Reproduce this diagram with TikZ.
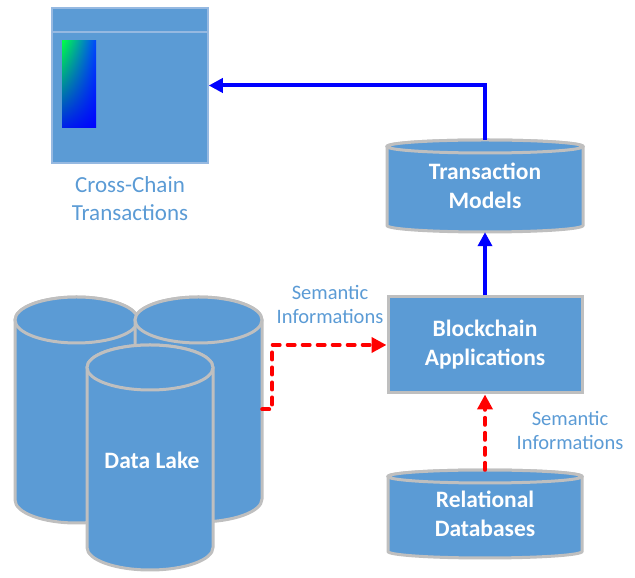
\documentclass[tikz,border=0pt]{standalone}
\usepackage{fontspec}
\setmainfont{Carlito}
\usetikzlibrary{arrows.meta,shadings}
\definecolor{fillblue}{HTML}{5B9BD5}
\definecolor{edgegray}{HTML}{BFBFBF}
\definecolor{labelblue}{HTML}{5B9BD5}
\definecolor{boxedge}{RGB}{150,185,225}
\definecolor{arrowblue}{RGB}{0,0,255}
\definecolor{arrowred}{RGB}{255,0,0}
\definecolor{gtl}{RGB}{0,255,70}
\definecolor{gtr}{RGB}{0,70,255}
\definecolor{gbl}{RGB}{0,30,235}
\definecolor{gbr}{RGB}{0,0,255}
\newcommand\cylshape[5]{%
  \filldraw[cylbody] (#1-#4,#2) -- (#1-#4,#3) arc[start angle=180,end angle=360,x radius=#4,y radius=#5] -- (#1+#4,#2) arc[start angle=0,end angle=180,x radius=#4,y radius=#5] -- cycle;
  \draw[cylbody] (#1,#2) ellipse[x radius=#4,y radius=#5];
}
\begin{document}
\begin{tikzpicture}[x=1pt,y=1pt,
  cylbody/.style={fill=fillblue, draw=edgegray, line width=3pt},
  boldtxt/.style={text=white, font=\fontsize{23.5}{29}\selectfont\bfseries, align=center, inner sep=0pt},
  lbl/.style={text=labelblue, font=\fontsize{20.5}{24}\selectfont, align=center, inner sep=0pt},
  bluearrow/.style={draw=arrowblue, line width=4pt, -{Triangle[length=14pt,width=14pt]}},
  reddash/.style={draw=arrowred, line width=4pt, dash pattern=on 7pt off 8pt, line cap=round, -{Triangle[length=15pt,width=15pt]}}
]
\useasboundingbox (0,0) rectangle (635,578);

% Cross-chain transactions box
\node[fill=fillblue, draw=boxedge, line width=1.5pt, minimum width=156pt, minimum height=155pt, inner sep=0pt] (cc) at (130,492.5) {};
\draw[boxedge, line width=1.5pt] (cc.west |- 0,546) -- (cc.east |- 0,546);
\shade[upper left=gtl, upper right=gtr, lower left=gbl, lower right=gbr] (62,450) rectangle (96,537);
\node[lbl, font=\fontsize{23}{28}\selectfont] (cclabel) at (130,379) {Cross-Chain\\Transactions};

% Data lake cylinders
\cylshape{76.5}{258}{78}{61.5}{23}
\cylshape{198.5}{258}{79}{63.5}{23}
\cylshape{150}{210.5}{30.5}{63}{22.5}
\node[minimum width=127pt, minimum height=225pt, inner sep=0pt] (dlright) at (198.5,168.5) {};
\node[boldtxt] (dl) at (152,118) {Data Lake};

% Transaction models
\cylshape{485}{431.5}{352.5}{98}{6.5}
\node[boldtxt, minimum width=196pt, minimum height=92pt] (tm) at (485,392) {Transaction\\Models};

% Relational databases
\cylshape{485}{101.5}{26.5}{97}{6.5}
\node[boldtxt, minimum width=194pt, minimum height=88pt] (rd) at (485,64) {Relational\\Databases};

% Blockchain applications
\node[boldtxt, fill=fillblue, draw=edgegray, line width=3pt, minimum width=194pt, minimum height=96pt] (ba) at (485,233) {Blockchain\\Applications};

% Connectors
\draw[bluearrow] (tm.north) |- (cc.east);
\draw[bluearrow] (ba.north) -- (tm.south);
\draw[reddash] (rd.north) -- (ba.south);
\draw[reddash] (dlright.east) -- ++(10,0) |- (ba.west);

% Labels
\node[lbl] (sem1) at (330,274) {Semantic\\Informations};
\node[lbl] (sem2) at (570,148) {Semantic\\Informations};
\end{tikzpicture}
\end{document}
